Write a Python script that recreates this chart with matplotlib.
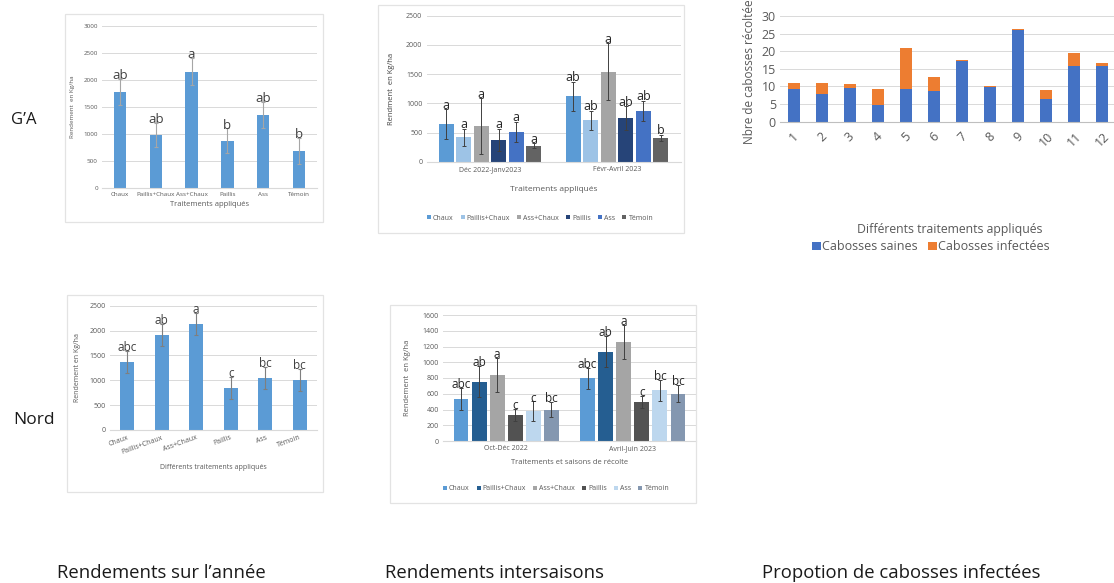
import numpy as np
import matplotlib
matplotlib.use("Agg")
import matplotlib.pyplot as plt
from matplotlib.patches import Rectangle

plt.rcParams['font.family'] = ['Open Sans', 'DejaVu Sans']

W, H = 1114, 583

# --- données : rendements sur l'année ---
trait_annee = ['Chaux', 'Paillis+Chaux', 'Ass+Chaux', 'Paillis', 'Ass', 'Témoin']
ga_annee = [1780, 980, 2150, 870, 1350, 690]
ga_annee_err = [240, 220, 250, 230, 240, 240]
ga_annee_lettres = ['ab', 'ab', 'a', 'b', 'ab', 'b']

nord_annee = [1360, 1910, 2135, 850, 1045, 1005]
nord_annee_err = [220, 215, 220, 225, 220, 230]
nord_annee_lettres = ['abc', 'ab', 'a', 'c', 'bc', 'bc']

# --- données : rendements intersaisons ---
ga_saisons = ['Déc 2022-Janv2023', 'Févr-Avril 2023']
ga_inter = {
    'Chaux':         [650, 1125],
    'Paillis+Chaux': [420, 710],
    'Ass+Chaux':     [610, 1545],
    'Paillis':       [375, 745],
    'Ass':           [520, 875],
    'Témoin':        [278, 410],
}
ga_inter_err = {
    'Chaux':         [250, 245],
    'Paillis+Chaux': [145, 170],
    'Ass+Chaux':     [480, 480],
    'Paillis':       [190, 205],
    'Ass':           [170, 175],
    'Témoin':        [40, 55],
}
ga_inter_lettres = {
    'Chaux': ['a', 'ab'], 'Paillis+Chaux': ['a', 'ab'], 'Ass+Chaux': ['a', 'a'],
    'Paillis': ['a', 'ab'], 'Ass': ['a', 'ab'], 'Témoin': ['a', 'b'],
}

nord_saisons = ['Oct-Déc 2022', 'Avril-Juin 2023']
nord_inter = {
    'Chaux':         [530, 795],
    'Paillis+Chaux': [755, 1135],
    'Ass+Chaux':     [835, 1260],
    'Paillis':       [330, 495],
    'Ass':           [378, 643],
    'Témoin':        [400, 600],
}
nord_inter_err = {
    'Chaux':         [140, 135],
    'Paillis+Chaux': [195, 200],
    'Ass+Chaux':     [215, 215],
    'Paillis':       [80, 75],
    'Ass':           [125, 135],
    'Témoin':        [100, 110],
}
nord_inter_lettres = {
    'Chaux': ['abc', 'abc'], 'Paillis+Chaux': ['ab', 'ab'], 'Ass+Chaux': ['a', 'a'],
    'Paillis': ['c', 'c'], 'Ass': ['c', 'bc'], 'Témoin': ['bc', 'bc'],
}

# --- données : cabosses ---
num_traitements = [str(i) for i in range(1, 13)]
cabosses_saines = [9.2, 7.8, 9.7, 4.7, 9.2, 8.8, 17.2, 9.9, 26.0, 6.4, 15.9, 15.9]
cabosses_infectees = [1.7, 3.1, 0.9, 4.5, 11.7, 4.0, 0.2, 0.3, 0.2, 2.6, 3.7, 0.8]

couleurs_ga = ['#5B9BD5', '#9DC3E6', '#A5A5A5', '#264478', '#4472C4', '#636363']
couleurs_nord = ['#5B9BD5', '#255E91', '#A5A5A5', '#525252', '#BDD7EE', '#8497B0']

GRIS = '#595959'
GRILLE = '#D9D9D9'

fig = plt.figure(figsize=(W / 100, H / 100), dpi=100)


def ax_px(x0, y0, x1, y1):
    return fig.add_axes([x0 / W, 1 - y1 / H, (x1 - x0) / W, (y1 - y0) / H])


def cadre(x0, y0, x1, y1):
    fig.patches.append(Rectangle((x0 / W, 1 - y1 / H), (x1 - x0) / W, (y1 - y0) / H,
                                 transform=fig.transFigure, fill=False,
                                 edgecolor='#E3E3E3', lw=0.9))


def style_excel(ax, fs):
    for s in ['top', 'right', 'left']:
        ax.spines[s].set_visible(False)
    ax.spines['bottom'].set_color(GRILLE)
    ax.grid(axis='y', color=GRILLE, lw=0.7)
    ax.set_axisbelow(True)
    ax.tick_params(length=0, labelsize=fs, colors=GRIS, pad=3)


def barres_annee(ax, valeurs, err, lettres, largeur, fs_lettre, ecol):
    x = np.arange(len(valeurs))
    ax.bar(x, valeurs, width=largeur, color='#5B9BD5', zorder=2)
    ax.errorbar(x, valeurs, yerr=err, fmt='none', ecolor=ecol, elinewidth=0.8,
                capsize=1.5, capthick=0.8, zorder=3)
    for xi, v, e, l in zip(x, valeurs, err, lettres):
        ax.text(xi, v + e - 60, l, ha='center', va='bottom', fontsize=fs_lettre,
                color='#404040', zorder=4)
    ax.set_xlim(-0.5, len(valeurs) - 0.5)


# ---------------- G'A : rendements sur l'année ----------------
cadre(65, 14, 323, 222)
ax1 = ax_px(102, 25.7, 317, 188)
style_excel(ax1, 4.5)
barres_annee(ax1, ga_annee, ga_annee_err, ga_annee_lettres, 0.34, 9.5, '#A6A6A6')
ax1.set_ylim(0, 3000)
ax1.set_yticks(np.arange(0, 3001, 500))
ax1.set_xticks(range(len(trait_annee)))
ax1.set_xticklabels(trait_annee)
ax1.set_xlabel('Traitements appliqués', fontsize=5.5, color=GRIS, labelpad=3)
ax1.set_ylabel('Rendement  en Kg/ha', fontsize=4.5, color=GRIS, labelpad=6)

# ---------------- Nord : rendements sur l'année ----------------
cadre(67, 295, 323, 492)
ax2 = ax_px(110, 305.7, 317, 430)
style_excel(ax2, 5)
barres_annee(ax2, nord_annee, nord_annee_err, nord_annee_lettres, 0.4, 8.5, '#7F7F7F')
ax2.set_ylim(0, 2500)
ax2.set_yticks(np.arange(0, 2501, 500))
ax2.set_xticks(range(len(trait_annee)))
ax2.set_xticklabels(trait_annee, rotation=20, ha='right', rotation_mode='anchor')
ax2.set_xlabel('Différents traitements appliqués', fontsize=5, color=GRIS, labelpad=6)
ax2.set_ylabel('Rendement en Kg/ha', fontsize=5, color=GRIS, labelpad=6)


def barres_saisons(ax, saisons, valeurs, err, lettres, couleurs, pas, largeur, fs_lettre):
    x = np.arange(len(saisons))
    n = len(valeurs)
    for i, (nom, col) in enumerate(zip(valeurs, couleurs)):
        xi = x + (i - (n - 1) / 2) * pas
        ax.bar(xi, valeurs[nom], width=largeur, color=col, label=nom, zorder=2)
        ax.errorbar(xi, valeurs[nom], yerr=err[nom], fmt='none', ecolor='#404040',
                    elinewidth=0.7, capsize=1.5, capthick=0.7, zorder=3)
        for xx, v, e, l in zip(xi, valeurs[nom], err[nom], lettres[nom]):
            ax.text(xx, v + e - 40, l, ha='center', va='bottom', fontsize=fs_lettre,
                    color='#262626', zorder=4)
    ax.set_xlim(-0.5, len(saisons) - 0.5)
    ax.set_xticks(x)
    ax.set_xticklabels(saisons)


# ---------------- G'A : intersaisons ----------------
cadre(378, 5, 684, 233)
ax3 = ax_px(426.5, 15.7, 680.5, 162)
style_excel(ax3, 5)
barres_saisons(ax3, ga_saisons, ga_inter, ga_inter_err, ga_inter_lettres,
               couleurs_ga, 0.138, 0.118, 9)
ax3.set_ylim(0, 2500)
ax3.set_yticks(np.arange(0, 2501, 500))
ax3.set_xlabel('Traitements appliqués', fontsize=6, color=GRIS, labelpad=9)
ax3.set_ylabel('Rendment  en Kg/ha', fontsize=5.5, color='#404040', labelpad=8)
ax3.legend(loc='center', bbox_to_anchor=(540 / W, 1 - 218 / H), bbox_transform=fig.transFigure,
           ncol=6, frameon=False, fontsize=5, handlelength=0.6, handleheight=0.6,
           handletextpad=0.3, columnspacing=1.0, labelcolor=GRIS)

# ---------------- Nord : intersaisons ----------------
cadre(390, 305, 696, 503)
ax4 = ax_px(443, 315, 696, 441)
style_excel(ax4, 5)
barres_saisons(ax4, nord_saisons, nord_inter, nord_inter_err, nord_inter_lettres,
               couleurs_nord, 0.143, 0.117, 8.5)
ax4.set_ylim(0, 1600)
ax4.set_yticks(np.arange(0, 1601, 200))
ax4.set_xlabel('Traitements et saisons de récolte', fontsize=5.5, color=GRIS, labelpad=5)
ax4.set_ylabel('Rendement  en Kg/ha', fontsize=5.5, color=GRIS, labelpad=8)
ax4.legend(loc='center', bbox_to_anchor=(556 / W, 1 - 489 / H), bbox_transform=fig.transFigure,
           ncol=6, frameon=False, fontsize=5, handlelength=0.6, handleheight=0.6,
           handletextpad=0.3, columnspacing=1.0, labelcolor=GRIS)

# ---------------- Cabosses ----------------
ax5 = ax_px(780, 16, 1116, 121.7)
style_excel(ax5, 9)
ax5.spines['bottom'].set_color('#BFBFBF')
x5 = np.arange(len(num_traitements))
ax5.bar(x5, cabosses_saines, width=0.42, color='#4472C4', label='Cabosses saines', zorder=2)
ax5.bar(x5, cabosses_infectees, width=0.42, bottom=cabosses_saines, color='#ED7D31',
        label='Cabosses infectées', zorder=2)
ax5.set_xlim(-0.5, len(num_traitements) - 0.5)
ax5.set_ylim(0, 30)
ax5.set_yticks(np.arange(0, 31, 5))
ax5.set_xticks(x5)
ax5.set_xticklabels(num_traitements, rotation=45, ha='center')
ax5.tick_params(axis='x', pad=6)
ax5.set_ylabel('Nbre de cabosses récoltées', fontsize=8.5, color=GRIS, labelpad=4)
fig.text(950 / W, 1 - 230 / H, 'Différents traitements appliqués', ha='center', va='center',
         fontsize=8.8, color=GRIS)
ax5.legend(loc='center', bbox_to_anchor=(931 / W, 1 - 247 / H), bbox_transform=fig.transFigure,
           ncol=2, frameon=False, fontsize=9, handlelength=0.7, handleheight=0.7,
           handletextpad=0.1, columnspacing=0.8, labelcolor=GRIS)

# ---------------- textes ----------------
fig.text(24 / W, 1 - 120 / H, 'G’A', ha='center', va='center', fontsize=12, color='#1a1a1a')
fig.text(34 / W, 1 - 420 / H, 'Nord', ha='center', va='center', fontsize=12.5, color='#1a1a1a')
fig.text(57 / W, 1 - 573 / H, 'Rendements sur l’année', ha='left', va='center',
         fontsize=13.3, color='#1a1a1a')
fig.text(385 / W, 1 - 573 / H, 'Rendements intersaisons', ha='left', va='center',
         fontsize=13.3, color='#1a1a1a')
fig.text(762 / W, 1 - 573 / H, 'Propotion de cabosses infectées', ha='left', va='center',
         fontsize=13.3, color='#1a1a1a')

fig.savefig('out.png', dpi=100, facecolor='white')
